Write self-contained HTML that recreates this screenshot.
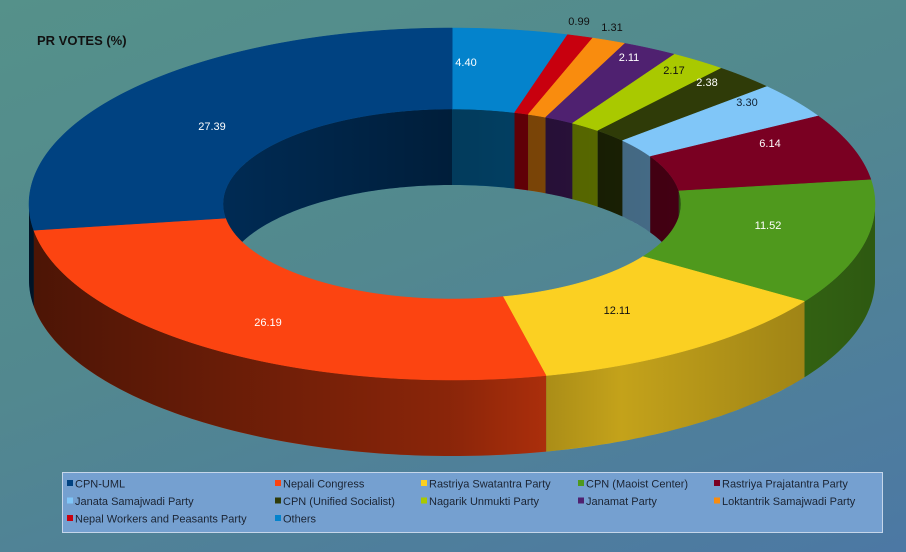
<!DOCTYPE html>
<html><head><meta charset="utf-8"><style>
html,body{margin:0;padding:0;width:906px;height:552px;overflow:hidden}
body{background:linear-gradient(160deg,#55918a 0%,#52888f 45%,#4c78a4 100%);font-family:"Liberation Sans",sans-serif}
</style></head><body>
<svg id="s" width="906" height="552" xmlns="http://www.w3.org/2000/svg" style="position:absolute;left:0;top:0"></svg>
<script>
var cx=452,cy=204,RX=423,RY=176,rx=229,ry=95,D=76;
var data=[["Others",4.40,"#0483cc"],["NWPP",0.99,"#c8000e"],["Lok",1.31,"#f98c0e"],["Janamat",2.11,"#4f2170"],["Nagarik",2.17,"#a9c900"],["US",2.38,"#2f3b08"],["Janata",3.30,"#80c6f8"],["RPP",6.14,"#7a0022"],["Maoist",11.52,"#4f991d"],["RSP",12.11,"#fbd022"],["NC",26.19,"#fc4411"],["UML",27.39,"#004281"]];
function P(a,b,y0,deg){var t=deg*Math.PI/180;var yy=y0-b*Math.cos(t);if(Math.sin(t)>0&&Math.cos(t)<0.5){yy-=8*Math.sin(t)*(a/RX);}return (cx+a*Math.sin(t)).toFixed(2)+","+yy.toFixed(2);}
function P(a,b,y0,deg){var t=deg*Math.PI/180;return (cx+a*Math.sin(t)).toFixed(2)+","+(y0-b*Math.cos(t)).toFixed(2);}
function arc(a,b,y0,d1,d2){var pts=[],n=Math.max(2,Math.ceil(Math.abs(d2-d1)));for(var i=0;i<=n;i++)pts.push(P(a,b,y0,d1+(d2-d1)*i/n));return pts;}
var s="";
s+='<defs><clipPath id="hole"><ellipse cx="'+cx+'" cy="'+cy+'" rx="'+rx+'" ry="'+ry+'"/></clipPath>'+
'<linearGradient id="sg" x1="0" x2="1" y1="0" y2="0"><stop offset="0" stop-color="#000" stop-opacity="0.7"/><stop offset="0.5" stop-color="#000" stop-opacity="0.45"/><stop offset="0.7" stop-color="#000" stop-opacity="0.22"/><stop offset="1" stop-color="#000" stop-opacity="0.42"/></linearGradient>'+
'<linearGradient id="ig" x1="0" x2="1" y1="0" y2="0"><stop offset="0" stop-color="#000" stop-opacity="0.35"/><stop offset="0.5" stop-color="#000" stop-opacity="0.55"/><stop offset="1" stop-color="#000" stop-opacity="0.45"/></linearGradient></defs>';
var cum=0,sl=[];
data.forEach(function(d){var a=cum*3.6;cum+=d[1];sl.push([a,cum*3.6,d[2]]);});
var iw="";
sl.forEach(function(x){[[270,360],[0,90]].forEach(function(r){var a=Math.max(x[0],r[0]),b=Math.min(x[1],r[1]);if(b>a){var p=arc(rx,ry,cy,a,b).concat(arc(rx,ry,cy+D,b,a));iw+='<polygon points="'+p.join(" ")+'" fill="'+x[2]+'"/>';}});});
var ov=arc(rx,ry,cy,-90,90).concat(arc(rx,ry,cy+D,90,-90));
iw+='<polygon points="'+ov.join(" ")+'" fill="url(#ig)"/>';
s+='<g clip-path="url(#hole)">'+iw+'</g>';
sl.forEach(function(x){var a=Math.max(x[0],90),b=Math.min(x[1],270);if(b>a){var p=arc(RX,RY,cy,a,b).concat(arc(RX,RY,cy+D,b,a));s+='<polygon points="'+p.join(" ")+'" fill="'+x[2]+'"/>';}});
var os=arc(RX,RY,cy,90,270).concat(arc(RX,RY,cy+D,270,90));
s+='<polygon points="'+os.join(" ")+'" fill="url(#sg)"/>';
sl.forEach(function(x){var p=arc(RX,RY,cy,x[0],x[1]).concat(arc(rx,ry,cy,x[1],x[0]));s+='<polygon points="'+p.join(" ")+'" fill="'+x[2]+'" stroke="'+x[2]+'" stroke-width="0.5"/>';});
var L=[["4.40",466,66,"#fff"],["0.99",579,25,"#111"],["1.31",612,31,"#111"],["2.11",629,61,"#fff"],["2.17",674,74,"#111"],["2.38",707,86,"#fff"],["3.30",747,106,"#123"],["6.14",770,147,"#fff"],["11.52",768,229,"#fff"],["12.11",617,314,"#111"],["26.19",268,326,"#fff"],["27.39",212,130,"#fff"]];
L.forEach(function(l){s+='<text x="'+l[1]+'" y="'+l[2]+'" fill="'+l[3]+'" font-size="11" text-anchor="middle" font-family="Liberation Sans, sans-serif">'+l[0]+'</text>';});
s+='<text x="37" y="45" font-size="13" font-weight="bold" fill="#111" font-family="Liberation Sans, sans-serif">PR VOTES (%)</text>';
s+='<rect x="62.5" y="472.5" width="820" height="60" fill="#75a0d0" stroke="#c5d6ea"/>';
var lg=[["CPN-UML","#004281"],["Nepali Congress","#fc4411"],["Rastriya Swatantra Party","#fbd022"],["CPN (Maoist Center)","#4f991d"],["Rastriya Prajatantra Party","#7a0022"],["Janata Samajwadi Party","#80c6f8"],["CPN (Unified Socialist)","#2f3b08"],["Nagarik Unmukti Party","#a9c900"],["Janamat Party","#4f2170"],["Loktantrik Samajwadi Party","#f98c0e"],["Nepal Workers and Peasants Party","#c8000e"],["Others","#0483cc"]];
var cols=[67,275,421,578,714];
lg.forEach(function(g,i){var x=cols[i%5],y=484+Math.floor(i/5)*17.5;s+='<rect x="'+x+'" y="'+(y-4)+'" width="6" height="6" fill="'+g[1]+'"/><text x="'+(x+8)+'" y="'+(y+3.5)+'" font-size="11" fill="#1b2433" font-family="Liberation Sans, sans-serif">'+g[0]+'</text>';});
document.getElementById("s").innerHTML=s;
</script>
</body></html>
